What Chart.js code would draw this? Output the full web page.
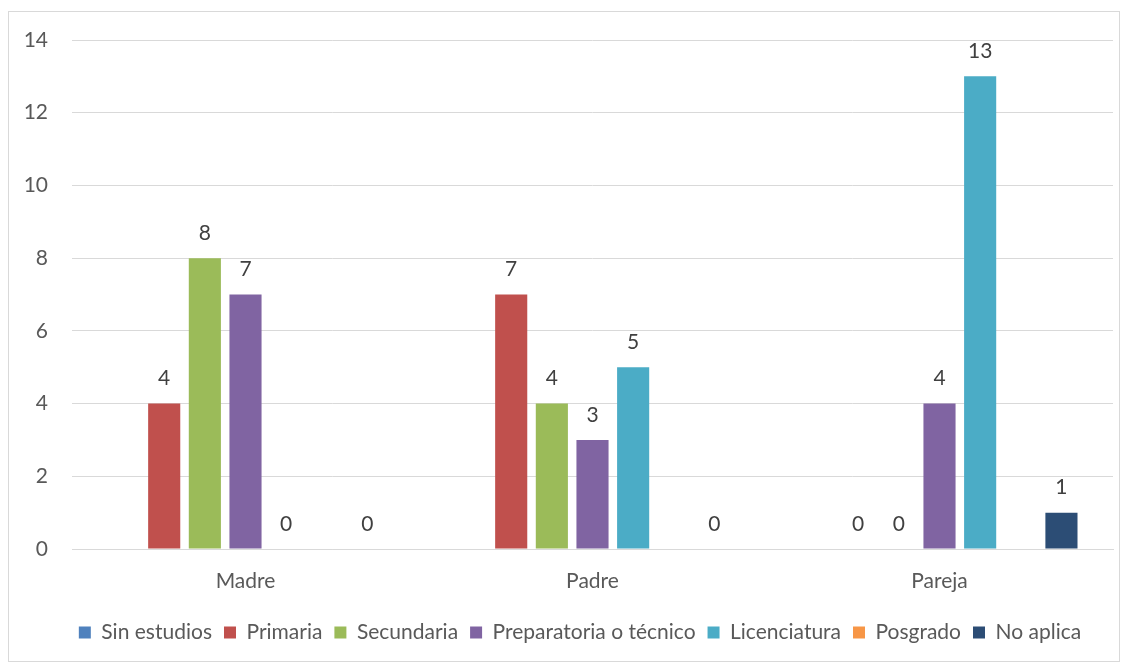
<!DOCTYPE html>
<html>
<head>
<meta charset="utf-8">
<script src="https://cdn.jsdelivr.net/npm/chart.js@4"></script>
<style>
  html, body { margin: 0; padding: 0; background: #ffffff; }
  #wrap {
    position: absolute;
    left: 8px;
    top: 11px;
    width: 1110px;
    height: 649px;
    border: 1px solid #d9d9d9;
  }
</style>
</head>
<body>
<div id="wrap"><canvas id="chart1"></canvas></div>
<script>
// Categories and series (null = no bar, no label)
const categories = ['Madre', 'Padre', 'Pareja'];
const seriesNames = ['Sin estudios', 'Primaria', 'Secundaria', 'Preparatoria o técnico', 'Licenciatura', 'Posgrado', 'No aplica'];
const sinEstudios = [null, null, null];
const primaria = [4, 7, 0];
const secundaria = [8, 4, 0];
const preparatoria = [7, 3, 4];
const licenciatura = [0, 5, 13];
const posgrado = [null, null, null];
const noAplica = [0, 0, 1];
const yTicks = [0, 2, 4, 6, 8, 10, 12, 14];

const seriesColors = ['#4F81BD', '#C0504D', '#9BBB59', '#8064A2', '#4BACC6', '#F79646', '#2C4D75'];
const seriesValues = [sinEstudios, primaria, secundaria, preparatoria, licenciatura, posgrado, noAplica];

const fontFamily = 'Lato, "Open Sans", sans-serif';
const fontSize = 21;
const textColor = '#595959';

// Draw value labels above each bar
const valueLabels = {
  id: 'valueLabels',
  afterDatasetsDraw(chart) {
    const ctx = chart.ctx;
    ctx.save();
    ctx.font = fontSize + 'px ' + fontFamily;
    ctx.fillStyle = '#404040';
    ctx.textAlign = 'center';
    ctx.textBaseline = 'middle';
    chart.data.datasets.forEach((ds, i) => {
      const meta = chart.getDatasetMeta(i);
      meta.data.forEach((bar, j) => {
        const v = ds.data[j];
        if (v === null || v === undefined) return;
        ctx.fillText(String(v), bar.x, bar.y - 25);
      });
    });
    ctx.restore();
  }
};

// Nudge the legend a little to the right, like the original
const legendShift = {
  id: 'legendShift',
  afterLayout(chart) {
    if (!chart.legend) return;
    chart.legend.left += 19;
    chart.legend.right += 19;
  }
};

const datasets = seriesNames.map((name, i) => ({
  label: name,
  data: seriesValues[i],
  backgroundColor: seriesColors[i],
  borderWidth: 0,
  categoryPercentage: 0.82,
  barPercentage: 0.79,
}));

const chart1 = new Chart(document.getElementById('chart1').getContext('2d'), {
  type: 'bar',
  data: { labels: categories, datasets: datasets },
  plugins: [valueLabels, legendShift],
  options: {
    responsive: true,
    maintainAspectRatio: false,
    animation: false,
    layout: { padding: { top: 28, right: 6, bottom: 8, left: 0 } },
    scales: {
      x: {
        grid: { display: false, drawTicks: false },
        border: { color: '#d9d9d9', width: 1 },
        ticks: { color: textColor, font: { family: fontFamily, size: fontSize }, padding: 20 },
        afterFit(scale) {
          scale.height = 61;
          scale.paddingLeft = 0;
          scale.paddingRight = 0;
        },
      },
      y: {
        min: 0,
        max: 14,
        afterBuildTicks(scale) { scale.ticks = yTicks.map(v => ({ value: v })); },
        grid: { color: '#d9d9d9', drawTicks: false },
        border: { display: false },
        ticks: { color: textColor, font: { family: fontFamily, size: fontSize }, padding: 24 },
        afterFit(scale) {
          scale.width = 63;
          scale.paddingTop = 0;
          scale.paddingBottom = 0;
        },
      },
    },
    plugins: {
      tooltip: { enabled: false },
      legend: {
        position: 'bottom',
        labels: {
          color: textColor,
          font: { family: fontFamily, size: fontSize },
          boxWidth: 12,
          boxHeight: 12,
          padding: 12,
        },
      },
    },
  },
});
</script>
</body>
</html>
